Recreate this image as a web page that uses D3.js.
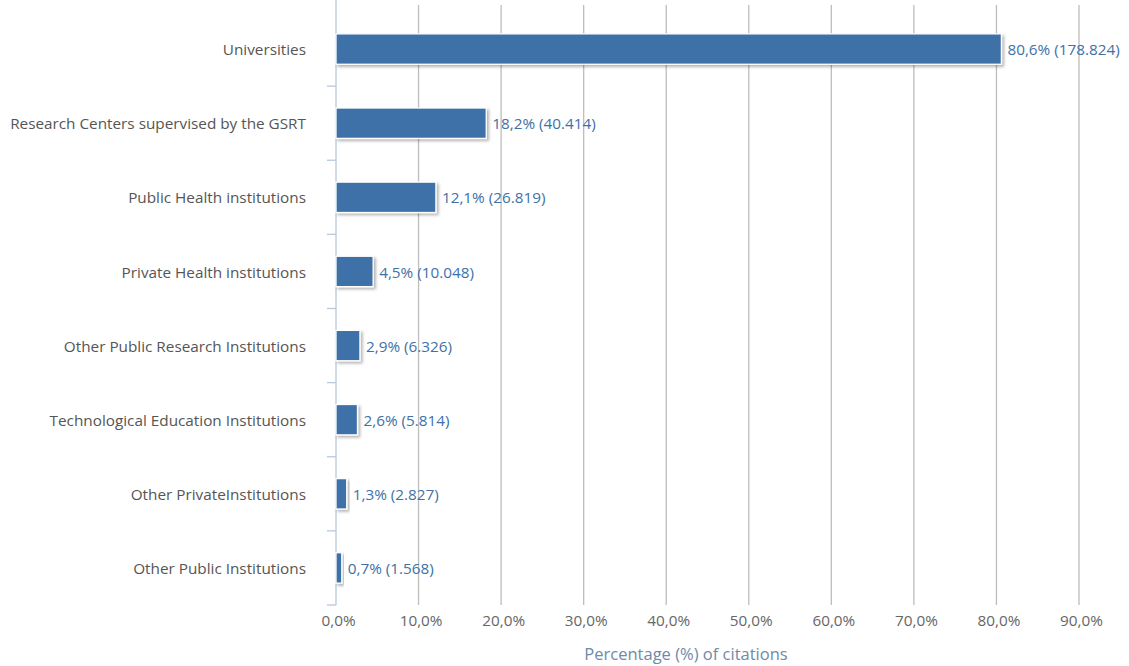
<!DOCTYPE html>
<html><head><meta charset="utf-8">
<script src="https://cdn.jsdelivr.net/npm/d3@7"></script>
<style>body{margin:0;background:#fff}svg{display:block;font-family:"Open Sans",sans-serif}</style>
</head><body><svg id="c" width="1129" height="666"></svg>
<script>
const categories = ["Universities","Research Centers supervised by the GSRT","Public Health institutions","Private Health institutions","Other Public Research Institutions","Technological Education Institutions","Other PrivateInstitutions","Other Public Institutions"];
const percentages = [80.6,18.2,12.1,4.5,2.9,2.6,1.3,0.7];
const citations = [178824,40414,26819,10048,6326,5814,2827,1568];
const xTicks = [0,10,20,30,40,50,60,70,80,90];
const xTitle = "Percentage (%) of citations";

const FONT = "'Open Sans', sans-serif";
const svg = d3.select("#c");
const x = d3.scaleLinear().domain([0,90]).range([336,1079]);
const y = d3.scaleBand().domain(categories).range([12,605]).paddingInner(0.59).paddingOuter(0.295);

const defs = svg.append("defs");
const f = defs.append("filter").attr("id","sh").attr("x","-20%").attr("y","-30%").attr("width","150%").attr("height","180%");
f.append("feDropShadow").attr("dx",2).attr("dy",2).attr("stdDeviation",1.6).attr("flood-color","#000").attr("flood-opacity",0.3);

// gridlines
svg.append("g").selectAll("line").data(xTicks.slice(1)).join("line")
  .attr("x1",d=>x(d)).attr("x2",d=>x(d)).attr("y1",5).attr("y2",605)
  .attr("stroke","#bdbdbd").attr("stroke-width",1.3);

// y axis
const yAxis = d3.axisLeft(y).tickSize(0).tickPadding(30);
const gy = svg.append("g").attr("transform","translate(336,0)").call(yAxis);
gy.select(".domain").remove();
gy.attr("font-family",FONT);
gy.selectAll("text").attr("font-size",15.3).attr("fill","#555").attr("dy","0.4em");
// axis line & boundary ticks
svg.append("line").attr("x1",336).attr("x2",336).attr("y1",0).attr("y2",605).attr("stroke","#b9c8da").attr("stroke-width",1.3);
const bounds = d3.range(1,categories.length+1).map(i=>12 + i*(593/categories.length));
svg.append("g").selectAll("line").data(bounds).join("line")
  .attr("x1",327).attr("x2",336).attr("y1",d=>d).attr("y2",d=>d)
  .attr("stroke","#b9c8da").attr("stroke-width",1.3);

// bars
const rows = categories.map((c,i)=>({c,p:percentages[i],n:citations[i]}));
svg.append("g").selectAll("rect").data(rows).join("rect")
  .attr("x",x(0)).attr("y",d=>y(d.c)).attr("width",d=>x(d.p)-x(0)).attr("height",y.bandwidth())
  .attr("fill","#3e71a7").attr("stroke","#fff").attr("stroke-width",1.3).attr("filter","url(#sh)");

const fmtP = d=>d.toFixed(1).replace(".",",")+"%";
const fmtN = d=>d3.format(",")(d).replace(/,/g,".");
svg.append("g").selectAll("text").data(rows).join("text")
  .attr("x",d=>x(d.p)+6).attr("y",d=>y(d.c)+y.bandwidth()/2).attr("dy","0.4em")
  .attr("font-size",15.3).attr("fill","#3e71a7")
  .text(d=>fmtP(d.p)+" ("+fmtN(d.n)+")");

// x axis labels
const xAxis = d3.axisBottom(x).tickValues(xTicks).tickSize(0).tickPadding(10).tickFormat(d=>d.toFixed(1).replace(".",",")+"%");
const gx = svg.append("g").attr("transform","translate(2,605)").call(xAxis);
gx.select(".domain").remove();
gx.attr("font-family",FONT);
gx.selectAll("text").attr("font-size",15.3).attr("fill","#666");

svg.append("text").attr("x",686).attr("y",660).attr("text-anchor","middle")
  .attr("font-size",16.5).attr("fill","#6f89a8").text(xTitle);
</script></body></html>
